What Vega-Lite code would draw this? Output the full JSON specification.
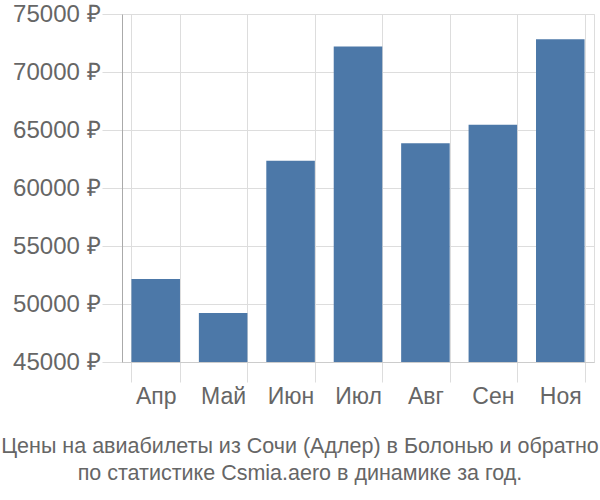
{
  "$schema": "https://vega.github.io/schema/vega-lite/v6.json",
  "width": 472,
  "height": 348,
  "autosize": "none",
  "padding": {"left": 122, "top": 14, "right": 6, "bottom": 138},
  "background": "white",
  "data": {"values": [
    {"month": "Апр", "price": 52150},
    {"month": "Май", "price": 49220},
    {"month": "Июн", "price": 62350},
    {"month": "Июл", "price": 72200},
    {"month": "Авг", "price": 63850},
    {"month": "Сен", "price": 65460},
    {"month": "Ноя", "price": 72820}
  ]},
  "title": {
    "text": ["Цены на авиабилеты из Сочи (Адлер) в Болонью и обратно", "по статистике Csmia.aero в динамике за год."],
    "orient": "bottom",
    "anchor": "middle",
    "font": "Liberation Sans",
    "fontSize": 21.5,
    "fontWeight": "normal",
    "color": "#666666",
    "lineHeight": 27,
    "offset": 28,
    "dx": -58
  },
  "config": {
    "view": {"stroke": "#dddddd", "strokeWidth": 1},
    "axis": {
      "labelFont": "Liberation Sans",
      "labelColor": "#666666",
      "gridColor": "#dddddd",
      "tickColor": "#dddddd",
      "domainColor": "#bbbbbb",
      "title": null
    }
  },
  "mark": {"type": "bar", "color": "#4c78a8", "clip": true},
  "encoding": {
    "x": {
      "field": "month",
      "type": "nominal",
      "sort": null,
      "scale": {"paddingInner": 0.28, "paddingOuter": 0.14},
      "axis": {"labelAngle": 0, "tickBand": "extent", "grid": true, "ticks": true, "tickSize": 20, "labelFontSize": 23, "labelPadding": 14, "domainColor": "#cccccc", "labelBaseline": "middle"}
    },
    "y": {
      "field": "price",
      "type": "quantitative",
      "scale": {"domain": [45000, 75000], "zero": false, "nice": false},
      "axis": {"values": [45000, 50000, 55000, 60000, 65000, 70000, 75000], "labelExpr": "datum.value + ' ₽'", "labelFontSize": 24, "tickSize": 20, "labelPadding": 2, "domainColor": "#aaaaaa", "grid": true}
    }
  }
}
